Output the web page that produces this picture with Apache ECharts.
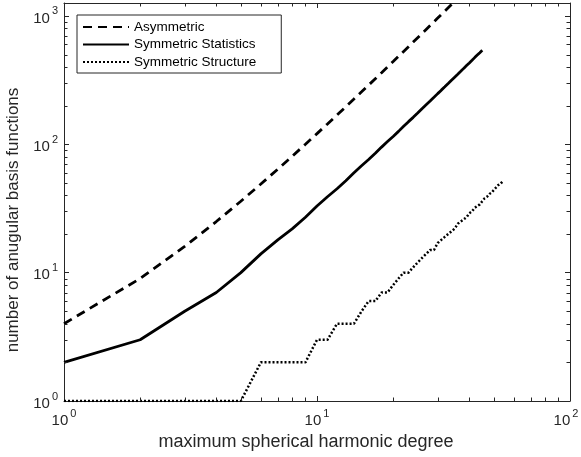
<!DOCTYPE html>
<html>
<head>
<meta charset="utf-8">
<script src="https://cdn.jsdelivr.net/npm/echarts@6/dist/echarts.min.js"></script>
<style>
html,body{margin:0;padding:0;background:#fff;}
#c{width:581px;height:457px;}
</style>
</head>
<body>
<div id="c"></div>
<script>
// ---- data ----
const asymDegrees = [1,2,3,4,5,6,7,8,9,10,11,12,13,14,15,16,17,18,19,20,21,22,23,24,25,26,27,28,29,30,31,32,33,34,35];
const asymValues  = [4,9,16,25,36,49,64,81,100,121,144,169,196,225,256,289,324,361,400,441,484,529,576,625,676,729,784,841,900,961,1024,1089,1156,1225,1296];

const statDegrees = [1,2,3,4,5,6,7,8,9,10,11,12,13,14,15,16,17,18,19,20,21,22,23,24,25,26,27,28,29,30,31,32,33,34,35,36,37,38,39,40,41,42,43,44,45];
const statValues  = [2,3,5,7,10,14,18,22,27,33,39,45,52,60,68,76,85,95,105,115,126,138,150,162,175,189,203,217,232,248,264,280,297,315,333,351,370,390,410,430,451,473,495,517,540];

const structDegrees = [1,2,3,4,5,6,7,8,9,10,11,12,13,14,15,16,17,18,19,20,21,22,23,24,25,26,27,28,29,30,31,32,33,34,35,36,37,38,39,40,41,42,43,44,45,46,47,48,49,50,51,52,53,54];
const structValues  = [1,1,1,1,1,2,2,2,2,3,3,4,4,4,5,6,6,7,7,8,9,10,10,11,12,13,14,15,15,17,18,19,20,21,22,24,25,26,27,29,30,32,33,34,36,38,39,41,42,44,46,48,49,51];

const seriesNames = ['Asymmetric', 'Symmetric Statistics', 'Symmetric Structure'];
const xRange = [1, 100];
const yRange = [1, 1260];
const xMinorTicks = [2,3,4,5,6,7,8,9,20,30,40,50,60,70,80,90];
const yMinorTicks = [2,3,4,5,6,7,8,9,20,30,40,50,60,70,80,90,200,300,400,500,600,700,800,900];

// ---- styling ----
const FONT = '"Liberation Sans", Arial, Helvetica, sans-serif';
const AX = '#262626';

function pairs(xs, ys) { return xs.map((x, i) => [x, ys[i]]); }

function makePowLabel(axisMax) {
  return function (v) {
    const e = Math.round(Math.log10(v));
    if (Math.abs(v - Math.pow(10, e)) > 1e-6 * v) return '';
    const sup = (Math.abs(v - axisMax) < 1e-9) ? 'se' : 's';
    return '{b|10}{' + sup + '|' + e + '}';
  };
}
const rich = {
  b: {fontSize: 15, fontFamily: FONT, color: AX, verticalAlign: 'bottom', lineHeight: 20},
  s: {fontSize: 11, fontFamily: FONT, color: AX, verticalAlign: 'top', padding: [0, 0, 0, 2]},
  se: {fontSize: 11, fontFamily: FONT, color: AX, verticalAlign: 'top', padding: [0, 8, 0, 2]}
};

const TICK_MINOR = 3.5;
function minorTickSeries(values, dim) {
  return {
    type: 'custom',
    silent: true,
    z: 6,
    clip: false,
    xAxisIndex: 0, yAxisIndex: 0,
    data: values.map(v => dim === 'x' ? [v, yRange[0]] : [xRange[0], v]),
    renderItem: function (params, api) {
      const cs = params.coordSys;
      const p = api.coord([api.value(0), api.value(1)]);
      const st = {stroke: AX, lineWidth: 1};
      if (dim === 'x') {
        const x = Math.round(p[0]) + 0.5;
        const yb = Math.round(cs.y + cs.height), yt = Math.round(cs.y);
        return {type: 'group', children: [
          {type: 'line', shape: {x1: x, y1: yb, x2: x, y2: yb - TICK_MINOR}, style: st},
          {type: 'line', shape: {x1: x, y1: yt, x2: x, y2: yt + TICK_MINOR}, style: st}
        ]};
      } else {
        const y = Math.round(p[1]) + 0.5;
        const xl = Math.round(cs.x), xr = Math.round(cs.x + cs.width);
        return {type: 'group', children: [
          {type: 'line', shape: {x1: xl, y1: y, x2: xl + TICK_MINOR, y2: y}, style: st},
          {type: 'line', shape: {x1: xr, y1: y, x2: xr - TICK_MINOR, y2: y}, style: st}
        ]};
      }
    }
  };
}

const axisLine = {show: true, lineStyle: {color: AX, width: 1}};
const axisTick = {show: true, inside: true, length: 5, lineStyle: {color: AX, width: 1}};

const chart = echarts.init(document.getElementById('c'), null, {renderer: 'canvas'});
chart.setOption({
  animation: false,
  backgroundColor: '#fff',
  color: ['#000', '#000', '#000'],
  grid: {left: 64, right: 11, top: 3, bottom: 56, containLabel: false, outerBoundsMode: 'none'},
  legend: {
    data: seriesNames,
    orient: 'vertical',
    left: 77, top: 15,
    padding: [5, 25, 4, 5],
    itemWidth: 46, itemHeight: 14, itemGap: 3.5, itemTextGap: 5,
    borderColor: AX, borderWidth: 1, borderRadius: 0,
    backgroundColor: '#fff',
    itemStyle: {opacity: 0},
    textStyle: {fontSize: 13.5, color: '#000', fontFamily: FONT}
  },
  xAxis: [
    {
      type: 'log', logBase: 10, min: xRange[0], max: xRange[1], position: 'bottom',
      axisLine: axisLine, axisTick: axisTick, splitLine: {show: false},
      axisLabel: {formatter: makePowLabel(xRange[1]), rich: rich, margin: 7},
      name: 'maximum spherical harmonic degree', nameLocation: 'middle', nameGap: 32,
      nameTextStyle: {fontSize: 18, color: AX, fontFamily: FONT, padding: [0, 22, 0, 0]}
    },
    {
      type: 'log', logBase: 10, min: xRange[0], max: xRange[1], position: 'top',
      axisLine: axisLine, axisTick: axisTick, splitLine: {show: false},
      axisLabel: {show: false}
    }
  ],
  yAxis: [
    {
      type: 'log', logBase: 10, min: yRange[0], max: yRange[1], position: 'left',
      axisLine: axisLine, axisTick: axisTick, splitLine: {show: false},
      axisLabel: {formatter: makePowLabel(yRange[1]), rich: rich, margin: 6},
      name: 'number of anugular basis functions', nameLocation: 'middle', nameGap: 36,
      nameTextStyle: {fontSize: 17, color: AX, fontFamily: FONT, padding: [0, 36, 0, 0]}
    },
    {
      type: 'log', logBase: 10, min: yRange[0], max: yRange[1], position: 'right',
      axisLine: axisLine, axisTick: axisTick, splitLine: {show: false},
      axisLabel: {show: false}
    }
  ],
  series: [
    {
      name: seriesNames[0], type: 'line', data: pairs(asymDegrees, asymValues),
      symbol: 'none', clip: true, z: 3, itemStyle: {color: '#000'},
      lineStyle: {color: '#000', width: 2.8, type: [9, 6]}
    },
    {
      name: seriesNames[1], type: 'line', data: pairs(statDegrees, statValues),
      symbol: 'none', clip: true, z: 3, itemStyle: {color: '#000'},
      lineStyle: {color: '#000', width: 2.8, type: 'solid'}
    },
    {
      name: seriesNames[2], type: 'line', data: pairs(structDegrees, structValues),
      symbol: 'none', clip: true, z: 3, itemStyle: {color: '#000'},
      lineStyle: {color: '#000', width: 2.5, type: [2, 2]}
    },
    minorTickSeries(xMinorTicks, 'x'),
    minorTickSeries(yMinorTicks, 'y')
  ]
});
</script>
</body>
</html>
